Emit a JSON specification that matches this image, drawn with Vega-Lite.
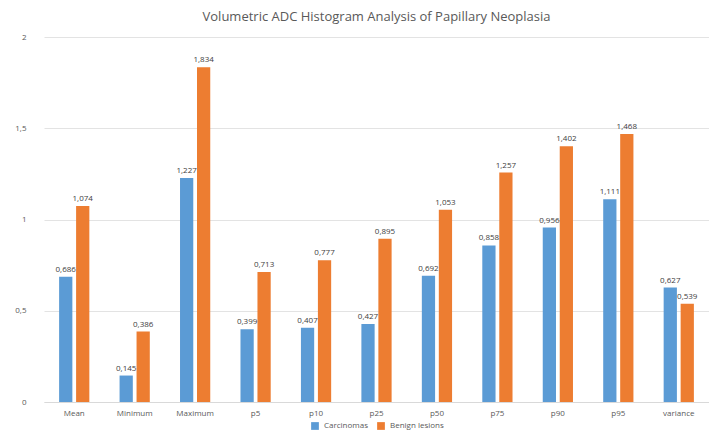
{
  "$schema": "https://vega.github.io/schema/vega-lite/v6.json",
  "width": 709,
  "height": 432,
  "autosize": {"type": "fit", "contains": "padding"},
  "padding": {"left": 14, "top": 11, "right": 0, "bottom": 2},
  "background": "white",
  "title": {
    "text": "Volumetric ADC Histogram Analysis of Papillary Neoplasia",
    "fontSize": 13,
    "fontWeight": "normal",
    "color": "#595959",
    "font": "Open Sans",
    "offset": 9
  },
  "data": {
    "values": [
      {"stat": "Mean", "group": "Carcinomas", "value": 0.686},
      {"stat": "Mean", "group": "Benign lesions", "value": 1.074},
      {"stat": "Minimum", "group": "Carcinomas", "value": 0.145},
      {"stat": "Minimum", "group": "Benign lesions", "value": 0.386},
      {"stat": "Maximum", "group": "Carcinomas", "value": 1.227},
      {"stat": "Maximum", "group": "Benign lesions", "value": 1.834},
      {"stat": "p5", "group": "Carcinomas", "value": 0.399},
      {"stat": "p5", "group": "Benign lesions", "value": 0.713},
      {"stat": "p10", "group": "Carcinomas", "value": 0.407},
      {"stat": "p10", "group": "Benign lesions", "value": 0.777},
      {"stat": "p25", "group": "Carcinomas", "value": 0.427},
      {"stat": "p25", "group": "Benign lesions", "value": 0.895},
      {"stat": "p50", "group": "Carcinomas", "value": 0.692},
      {"stat": "p50", "group": "Benign lesions", "value": 1.053},
      {"stat": "p75", "group": "Carcinomas", "value": 0.858},
      {"stat": "p75", "group": "Benign lesions", "value": 1.257},
      {"stat": "p90", "group": "Carcinomas", "value": 0.956},
      {"stat": "p90", "group": "Benign lesions", "value": 1.402},
      {"stat": "p95", "group": "Carcinomas", "value": 1.111},
      {"stat": "p95", "group": "Benign lesions", "value": 1.468},
      {"stat": "variance", "group": "Carcinomas", "value": 0.627},
      {"stat": "variance", "group": "Benign lesions", "value": 0.539}
    ]
  },
  "encoding": {
    "x": {
      "field": "stat",
      "type": "nominal",
      "sort": null,
      "title": null,
      "scale": {"paddingInner": 0.5, "paddingOuter": 0.25},
      "axis": {"labelAngle": 0, "ticks": false, "domainColor": "#d9d9d9", "labelColor": "#595959", "labelFontSize": 8, "labelPadding": 7, "grid": false}
    },
    "xOffset": {
      "field": "group",
      "type": "nominal",
      "sort": ["Carcinomas", "Benign lesions"],
      "scale": {"paddingInner": 0.22}
    },
    "y": {
      "field": "value",
      "type": "quantitative",
      "title": null,
      "scale": {"domain": [0, 2]},
      "axis": {"values": [0, 0.5, 1, 1.5, 2], "format": "~g", "domain": false, "ticks": false, "gridColor": "#e3e3e3", "labelColor": "#595959", "labelFontSize": 8, "labelPadding": 18}
    }
  },
  "layer": [
    {
      "mark": {"type": "bar"},
      "encoding": {
        "color": {
          "field": "group",
          "type": "nominal",
          "sort": ["Carcinomas", "Benign lesions"],
          "scale": {"domain": ["Carcinomas", "Benign lesions"], "range": ["#5B9BD5", "#ED7D31"]},
          "legend": {"orient": "bottom", "direction": "horizontal", "title": null, "symbolType": "square", "symbolSize": 60, "labelFontSize": 8, "labelColor": "#595959", "offset": 4, "columnPadding": 8}
        }
      }
    },
    {
      "mark": {"type": "text", "dy": -7, "fontSize": 8, "color": "#404040"},
      "encoding": {
        "text": {"field": "value", "type": "quantitative", "format": ".3f"}
      }
    }
  ],
  "config": {
    "font": "Open Sans",
    "view": {"stroke": null},
    "legend": {"layout": {"bottom": {"anchor": "middle"}}},
    "locale": {"number": {"decimal": ",", "thousands": ".", "grouping": [3], "currency": ["", " €"]}}
  }
}
